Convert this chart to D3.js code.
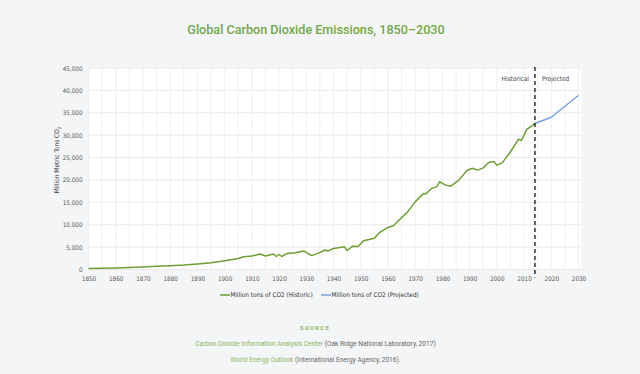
<!DOCTYPE html>
<html lang="en">
<head>
    <meta charset="utf-8">
    <title>Global Carbon Dioxide Emissions</title>
    <script src="https://d3js.org/d3.v7.min.js"></script>
    <style>
        body { margin: 0; background: #f4f5f7; }
        svg { display: block; }
    </style>
</head>
<body>
<script>
    // Historic emissions, million metric tons CO2
    var histYears = [1850, 1855, 1860, 1865, 1870, 1875, 1880, 1885, 1890, 1895,
        1900, 1903, 1905, 1907, 1910, 1913, 1915, 1918, 1919, 1920, 1921, 1923,
        1926, 1929, 1932, 1934, 1937, 1938, 1940, 1944, 1945, 1947, 1949, 1951,
        1953, 1955, 1957, 1960, 1962, 1964, 1967, 1970, 1973, 1974, 1976, 1978,
        1979, 1981, 1983, 1986, 1989, 1991, 1993, 1995, 1997, 1999, 2000, 2002,
        2005, 2008, 2009, 2011, 2014];
    var histValues = [200, 270, 350, 450, 560, 700, 850, 1000, 1250, 1500,
        1950, 2250, 2450, 2850, 3000, 3450, 3000, 3450, 2900, 3350, 2900, 3600,
        3750, 4150, 3100, 3550, 4350, 4150, 4700, 5100, 4250, 5200, 5150, 6400,
        6700, 7000, 8300, 9400, 9750, 11000, 12700, 15100, 16950, 16900, 18100, 18500,
        19600, 18900, 18600, 19900, 22100, 22600, 22200, 22700, 23900, 24100, 23300, 23800,
        26300, 29100, 28800, 31300, 32600];

    // Projected emissions
    var projYears = [2014, 2020, 2030];
    var projValues = [32600, 34000, 38900];

    var xTicks = d3.range(1850, 2031, 10);
    var yTicks = d3.range(0, 45001, 5000);
    var splitYear = 2014;

    var width = 640;
    var height = 374;
    var margin = { left: 88.5, right: 61.5, top: 68, bottom: 104.5 };

    var green = "#6d9f34";
    var blue = "#76a0d6";

    var svg = d3.select("body")
        .append("svg")
        .attr("width", width)
        .attr("height", height);

    // title
    svg.append("text")
        .attr("x", 316)
        .attr("y", 34)
        .attr("text-anchor", "middle")
        .attr("fill", "#74a744")
        .style("font-family", "Roboto, sans-serif")
        .style("font-weight", 500)
        .style("font-size", "12.6px")
        .text("Global Carbon Dioxide Emissions, 1850\u20132030");

    var x = d3.scaleLinear()
        .domain([1850, 2030])
        .range([margin.left, width - margin.right]);

    var y = d3.scaleLinear()
        .domain([0, 45000])
        .range([height - margin.bottom, margin.top]);

    // white plot panel
    svg.append("rect")
        .attr("x", x(1850))
        .attr("y", y(45000))
        .attr("width", x(2030) - x(1850) + 3)
        .attr("height", y(0) - y(45000))
        .attr("fill", "#ffffff");

    // grid
    var grid = svg.append("g");
    grid.selectAll(".vg")
        .data(d3.range(1850, 2031, 5))
        .enter()
        .append("line")
        .attr("x1", function(d) { return x(d); })
        .attr("x2", function(d) { return x(d); })
        .attr("y1", y(45000))
        .attr("y2", y(0))
        .attr("stroke", "#ececec")
        .attr("stroke-width", 0.8);
    grid.selectAll(".hg")
        .data(yTicks)
        .enter()
        .append("line")
        .attr("x1", x(1850))
        .attr("x2", x(2030) + 3)
        .attr("y1", function(d) { return y(d); })
        .attr("y2", function(d) { return y(d); })
        .attr("stroke", "#e4e4e4")
        .attr("stroke-width", 0.8);

    var tickFont = "'Liberation Sans Narrow', 'DejaVu Sans Condensed', sans-serif";

    // axes
    var xAxis = svg.append("g")
        .attr("transform", "translate(0," + y(0) + ")")
        .call(d3.axisBottom(x).tickValues(xTicks).tickFormat(d3.format("d")).tickSize(0).tickPadding(7));
    xAxis.select(".domain").remove();
    xAxis.selectAll("text")
        .attr("fill", "#555")
        .style("font-family", tickFont)
        .style("font-size", "6.3px");

    var yAxis = svg.append("g")
        .attr("transform", "translate(" + x(1850) + ",0)")
        .call(d3.axisLeft(y).tickValues(yTicks).tickFormat(d3.format(",")).tickSize(0).tickPadding(6));
    yAxis.select(".domain").remove();
    yAxis.selectAll("text")
        .attr("fill", "#555")
        .style("font-family", tickFont)
        .style("font-size", "6.3px");

    // y axis title
    var yTitle = svg.append("text")
        .attr("transform", "translate(59,160) rotate(-90)")
        .attr("text-anchor", "middle")
        .attr("fill", "#333")
        .style("font-family", tickFont)
        .style("font-size", "6.5px");
    yTitle.append("tspan").text("Million Metric Tons CO");
    yTitle.append("tspan").attr("font-size", "4.5px").attr("dy", "1.5").text("2");

    var line = d3.line()
        .x(function(d) { return x(d[0]); })
        .y(function(d) { return y(d[1]); });

    var hist = d3.zip(histYears, histValues);
    var proj = d3.zip(projYears, projValues);

    svg.append("path")
        .datum(hist)
        .attr("fill", "none")
        .attr("stroke", green)
        .attr("stroke-width", 1.5)
        .attr("stroke-linejoin", "round")
        .attr("d", line);

    svg.append("path")
        .datum(proj)
        .attr("fill", "none")
        .attr("stroke", blue)
        .attr("stroke-width", 1.4)
        .attr("stroke-linejoin", "round")
        .attr("d", line);

    // historical / projected divider
    svg.append("line")
        .attr("x1", x(splitYear))
        .attr("x2", x(splitYear))
        .attr("y1", y(45000) - 1)
        .attr("y2", y(0) + 8)
        .attr("stroke", "#111")
        .attr("stroke-width", 1.3)
        .attr("stroke-dasharray", "4,3");

    svg.append("text")
        .attr("x", x(splitYear) - 6)
        .attr("y", 81)
        .attr("text-anchor", "end")
        .attr("fill", "#444")
        .style("font-family", tickFont)
        .style("font-size", "6.5px")
        .text("Historical");
    svg.append("text")
        .attr("x", x(splitYear) + 7)
        .attr("y", 81)
        .attr("fill", "#444")
        .style("font-family", tickFont)
        .style("font-size", "6.5px")
        .text("Projected");

    // legend
    var legendItems = [
        { label: "Million tons of CO2 (Historic)", color: green, x: 220 },
        { label: "Million tons of CO2 (Projected)", color: blue, x: 321 }
    ];
    var legend = svg.selectAll(".legend")
        .data(legendItems)
        .enter()
        .append("g")
        .attr("transform", function(d) { return "translate(" + d.x + ",295)"; });
    legend.append("line")
        .attr("x1", 0)
        .attr("x2", 10)
        .attr("stroke", function(d) { return d.color; })
        .attr("stroke-width", 1.5);
    legend.append("text")
        .attr("x", 10.5)
        .attr("dy", "0.35em")
        .attr("fill", "#333")
        .style("font-family", tickFont)
        .style("font-size", "6.4px")
        .text(function(d) { return d.label; });

    // sources
    svg.append("text")
        .attr("x", 315)
        .attr("y", 330)
        .attr("text-anchor", "middle")
        .attr("fill", "#8db35e")
        .style("font-family", "Roboto, sans-serif")
        .style("font-weight", 700)
        .style("font-size", "5.8px")
        .style("letter-spacing", "1.3px")
        .text("SOURCE");

    var sources = [
        { name: "Carbon Dioxide Information Analysis Center", note: " (Oak Ridge National Laboratory, 2017)", y: 345.5 },
        { name: "World Energy Outlook", note: " (International Energy Agency, 2016).", y: 362 }
    ];
    sources.forEach(function(s) {
        var t = svg.append("text")
            .attr("x", 315.5)
            .attr("y", s.y)
            .attr("text-anchor", "middle")
            .style("font-family", "Roboto, sans-serif")
            .style("font-size", "6.6px");
        t.append("tspan").attr("fill", "#8db35e").text(s.name);
        t.append("tspan").attr("fill", "#666").text(s.note);
    });
</script>
</body>
</html>
